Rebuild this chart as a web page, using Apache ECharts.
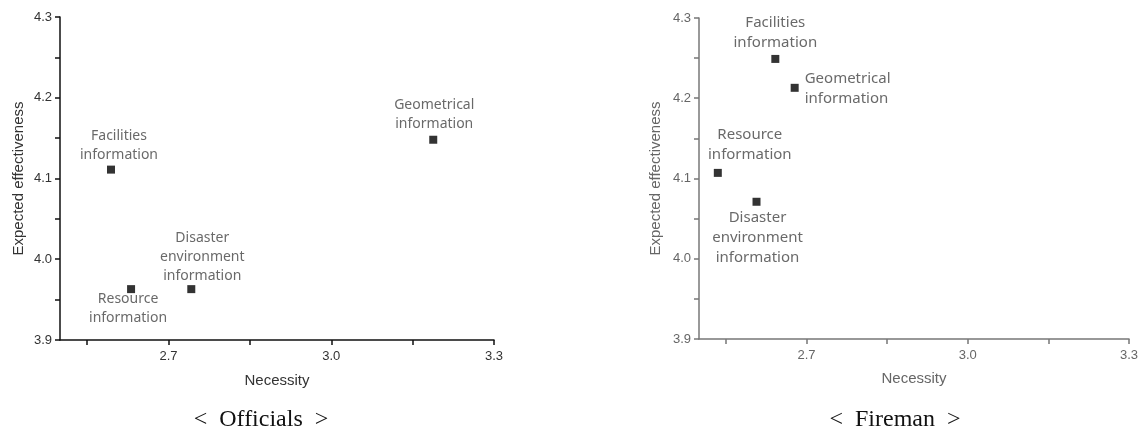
<!DOCTYPE html>
<html>
<head>
<meta charset="utf-8">
<script src="https://cdn.jsdelivr.net/npm/echarts@6/dist/echarts.min.js"></script>
<style>html,body{margin:0;padding:0;background:#fff}#c{width:1144px;height:427px}</style>
</head>
<body>
<div id="c"></div>
<script>
// ---- data ----
const pointNames = ['Facilities\ninformation', 'Resource\ninformation', 'Disaster\nenvironment\ninformation', 'Geometrical\ninformation'];
const officialsNecessity = [2.594, 2.631, 2.742, 3.188];
const officialsEffect = [4.111, 3.963, 3.963, 4.148];
const firemanNecessity = [2.642, 2.535, 2.607, 2.678];
const firemanEffect = [4.249, 4.107, 4.071, 4.213];
const xTickValues = [2.55, 2.7, 2.85, 3.0, 3.15, 3.3];
const xLabelValues = [2.7, 3.0, 3.3];
const yTickValues = [3.9, 3.95, 4.0, 4.05, 4.1, 4.15, 4.2, 4.25, 4.3];
const yLabelValues = [3.9, 4.0, 4.1, 4.2, 4.3];
const panelTitles = ['<  Officials  >', '<  Fireman  >'];
const xName = 'Necessity';
const yName = 'Expected effectiveness';

// ---- label placement styles (per point) ----
const officialsLabelStyle = [
  {position: 'top', distance: 1, offset: [8, 0]},
  {position: 'bottom', distance: 0, offset: [-3, -4]},
  {position: 'top', distance: 0, offset: [11, 0]},
  {position: 'top', distance: 2, offset: [1, 0]}
];
const firemanLabelStyle = [
  {position: 'top', distance: 2, offset: [0, 0]},
  {position: 'top', distance: 4, offset: [32, 0]},
  {position: 'bottom', distance: 2, offset: [1, 0]},
  {position: 'right', distance: 6, offset: [0, 1]}
];

function buildData(xs, ys, styles, fontSize, lh) {
  return xs.map((x, i) => ({
    value: [x, ys[i]],
    name: pointNames[i],
    label: Object.assign({show: true, formatter: '{b}', fontSize: fontSize, lineHeight: lh,
      color: '#444', fontFamily: 'Noto Sans', align: 'center'}, styles[i],
      styles[i].position === 'right' ? {align: 'left'} : {})
  }));
}

const grids = [
  {left: 60, top: 17, width: 434, height: 323},
  {left: 699, top: 18, width: 430, height: 321}
];
const axisColors = ['#111', '#777'];
const labelColors = ['#333', '#666'];

function xAxis(i) {
  return {
    type: 'value', gridIndex: i, min: 2.5, max: 3.3,
    name: xName, nameLocation: 'middle', nameGap: i === 0 ? 33 : 32,
    nameTextStyle: {fontFamily: 'Liberation Sans', fontSize: 15, color: labelColors[i]},
    axisLine: {show: true, onZero: false, lineStyle: {color: axisColors[i], width: 1.5}},
    axisTick: {show: true, length: 5, customValues: xTickValues, lineStyle: {color: axisColors[i], width: 1.5}},
    axisLabel: {customValues: xLabelValues, formatter: v => Number(v).toFixed(1), margin: 10,
      fontFamily: 'Liberation Sans', fontSize: 13, color: labelColors[i]},
    splitLine: {show: false}
  };
}
function yAxis(i) {
  return {
    type: 'value', gridIndex: i, min: 3.9, max: 4.3,
    name: yName, nameLocation: 'middle', nameGap: i === 0 ? 34 : 36,
    nameTextStyle: {fontFamily: 'Liberation Sans', fontSize: 15, color: labelColors[i]},
    axisLine: {show: true, onZero: false, lineStyle: {color: axisColors[i], width: 1.5}},
    axisTick: {show: true, length: 5, customValues: yTickValues, lineStyle: {color: axisColors[i], width: 1.5}},
    axisLabel: {customValues: yLabelValues, formatter: v => Number(v).toFixed(1), margin: 8,
      fontFamily: 'Liberation Sans', fontSize: 13, color: labelColors[i]},
    splitLine: {show: false}
  };
}

const chart = echarts.init(document.getElementById('c'), null, {renderer: 'canvas'});
chart.setOption({
  animation: false,
  backgroundColor: '#fff',
  title: [
    {text: panelTitles[0], left: 256, top: 403, textAlign: 'center',
     textStyle: {fontFamily: 'Liberation Serif', fontSize: 24, fontWeight: 'normal', color: '#111'}},
    {text: panelTitles[1], left: 890, top: 403, textAlign: 'center',
     textStyle: {fontFamily: 'Liberation Serif', fontSize: 24, fontWeight: 'normal', color: '#111'}}
  ],
  grid: grids,
  xAxis: [xAxis(0), xAxis(1)],
  yAxis: [yAxis(0), yAxis(1)],
  series: [
    {type: 'scatter', xAxisIndex: 0, yAxisIndex: 0, symbol: 'rect', symbolSize: 8,
     itemStyle: {color: '#000'}, data: buildData(officialsNecessity, officialsEffect, officialsLabelStyle, 14, 19)},
    {type: 'scatter', xAxisIndex: 1, yAxisIndex: 1, symbol: 'rect', symbolSize: 8,
     itemStyle: {color: '#000'}, data: buildData(firemanNecessity, firemanEffect, firemanLabelStyle, 15, 20)}
  ]
});
</script>
</body>
</html>
